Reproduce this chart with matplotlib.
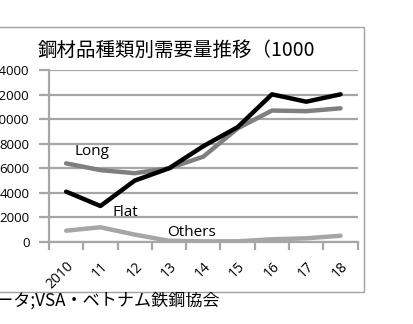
import matplotlib.pyplot as plt
from matplotlib.patches import Rectangle
from matplotlib.ticker import FixedLocator

# Data (unit: 1000 t)
years = ["2010", "11", "12", "13", "14", "15", "16", "17", "18"]
flat = [4100, 2930, 5000, 6000, 7800, 9350, 12020, 11420, 12020]
long_ = [6400, 5850, 5600, 6000, 6950, 9250, 10700, 10650, 10880]
others = [920, 1200, 600, 100, 50, 60, 220, 300, 510]

title = "鋼材品種類別需要量推移（1000"
source = "データ;VSA・ベトナム鉄鋼協会"

GRID = "#a6a6a6"


def main() -> None:
    fig = plt.figure(figsize=(4.14, 3.24), dpi=100)
    ax = fig.add_axes([49 / 414, 1 - 242 / 324, (357.7 - 49) / 414, 172 / 324])

    xs = list(range(len(years)))
    ax.plot(xs, others, color="#a6a6a6", lw=3.2, solid_capstyle="round", zorder=3)
    ax.plot(xs, long_, color="#7f7f7f", lw=3.2, solid_capstyle="round", zorder=4)
    ax.plot(xs, flat, color="#000000", lw=3.2, solid_capstyle="round", zorder=5)

    ax.set_xlim(-0.5, len(years) - 0.5)
    ax.set_ylim(0, 14000)
    ax.set_yticks(range(0, 14001, 2000))
    ax.yaxis.grid(True, color=GRID, lw=1.6)
    ax.set_axisbelow(True)

    tick_font = ["Open Sans", "DejaVu Sans"]
    ax.set_xticks(xs)
    ax.set_xticklabels(years, rotation=45, ha="right", va="top",
                       rotation_mode="anchor", fontsize=10, family=tick_font)
    ax.xaxis.set_minor_locator(FixedLocator([i - 0.5 for i in range(len(years) + 1)]))
    ax.tick_params(axis="x", which="major", length=0, pad=12)
    ax.tick_params(axis="x", which="minor", length=6, width=1.6, color=GRID)
    ax.tick_params(axis="y", length=7, width=1.6, color=GRID, labelsize=9.5, pad=7)
    for t in ax.get_yticklabels():
        t.set_family(tick_font)

    for side in ("top", "right"):
        ax.spines[side].set_visible(False)
    for side in ("left", "bottom"):
        ax.spines[side].set_color(GRID)
        ax.spines[side].set_linewidth(1.6)

    lab = dict(fontsize=11, family=["Open Sans", "DejaVu Sans"])
    ax.text(0.25, 7100, "Long", **lab)
    ax.text(1.35, 3050, "Flat", va="top", **lab)
    ax.text(2.95, 500, "Others", **lab)

    fig.text(38 / 414, 1 - 50 / 324, title, fontsize=14, va="center", ha="left",
             family=["Noto Sans CJK JP", "DejaVu Sans"])
    fig.text(220 / 414, 1 - 301 / 324, source, fontsize=12.3, va="center", ha="right",
             family=["Noto Sans CJK JP", "DejaVu Sans"])

    # outer frame of the original figure (left edge is cropped off)
    frame = Rectangle((-0.05, 1 - 291.5 / 324), 364 / 414 + 0.05, (291.5 - 27) / 324,
                      transform=fig.transFigure, fill=False, ec="#a0a0a0", lw=1.0,
                      clip_on=False)
    fig.add_artist(frame)

    fig.savefig("out.png", dpi=100)
    plt.close(fig)


if __name__ == "__main__":
    main()
